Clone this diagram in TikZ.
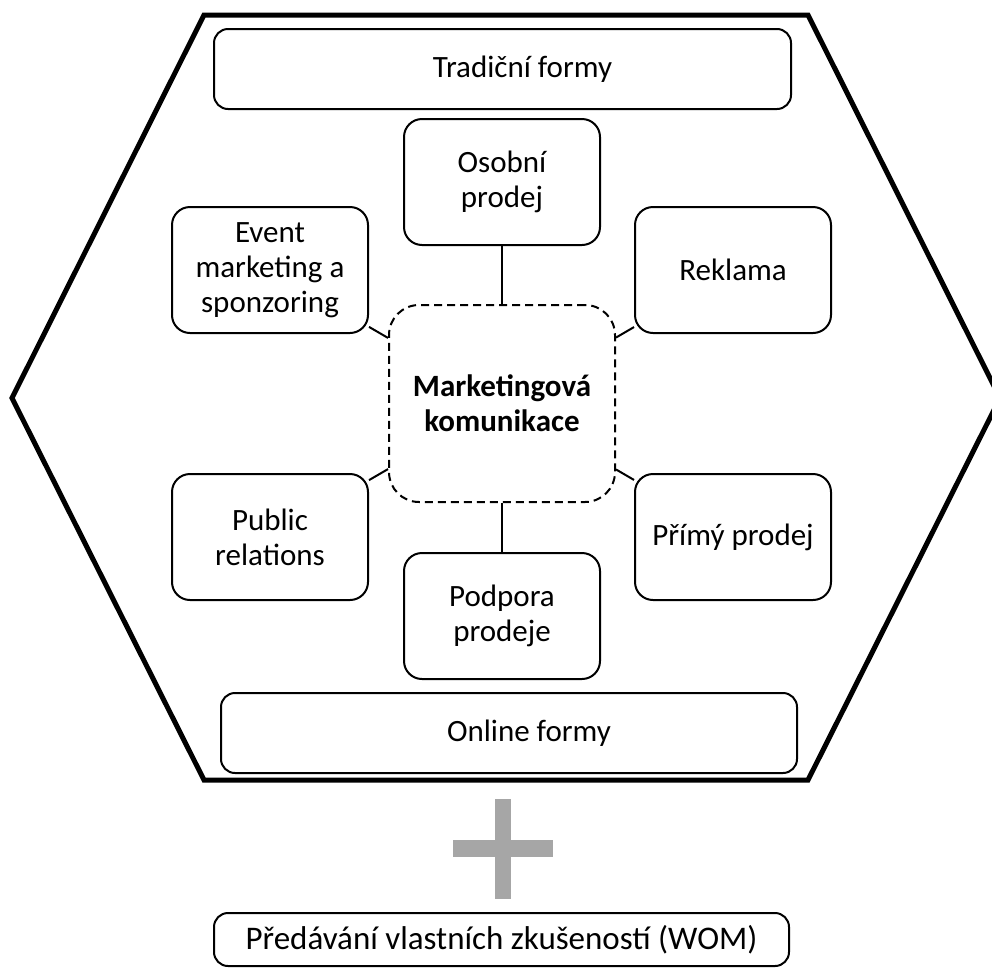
\documentclass[tikz,border=0pt]{standalone}
\usepackage{fontspec}
\setmainfont{Carlito}
\usepackage{tikz}
\usetikzlibrary{positioning}
\definecolor{plusGray}{HTML}{A6A6A6}

\begin{document}
\begin{tikzpicture}[x=1pt,y=-1pt,
  box/.style={draw,line width=2pt,rounded corners=18pt,minimum width=196pt,minimum height=126pt,align=center,inner sep=2pt,font=\fontsize{31}{35}\selectfont},
  bar/.style={draw,line width=2pt,rounded corners=14pt,minimum width=577pt,minimum height=80pt,font=\fontsize{31}{35}\selectfont},
  hub/.style={draw,line width=2pt,dash pattern=on 8pt off 5pt,rounded corners=30pt,minimum width=226pt,minimum height=197pt,align=center,font=\bfseries\fontsize{31}{35}\selectfont},
  link/.style={line width=2pt},
  hexa/.style={line width=5pt,line join=miter}
]
\clip (0,0) rectangle (992,975);
% outer hexagon
\draw[hexa] (204,15) -- (808,15) -- (1000,398) -- (808,780) -- (204,780) -- (12,398) -- cycle;

\node[hub] (mk) at (502,403.5) {Marketingová\\komunikace};
\node[box,above=58pt of mk] (osobni) {Osobní\\prodej};
\node[box,below=49pt of mk] (podpora) {Podpora\\prodeje};
\node[box] (event) at (270,270) {Event\\marketing a\\sponzoring};
\node[box] (reklama) at (733,270) {Reklama};
\node[box] (pr) at (270,537) {Public\\relations};
\node[box] (primy) at (733,537) {Přímý prodej};

\node[bar] (tradicni) at (502.5,69) {\hspace*{40pt}Tradiční formy};
\node[bar,minimum width=576pt] (online) at (509,733) {\hspace*{40pt}Online formy};

\foreach \n in {osobni,podpora,event,reklama,pr,primy}
  \draw[link] (mk) -- (\n);

% plus sign
\fill[plusGray] (495,799) rectangle (511,899);
\fill[plusGray] (453,840) rectangle (553,857);

\node[draw,line width=2pt,rounded corners=14pt,minimum width=575pt,minimum height=53pt,font=\fontsize{33}{38}\selectfont] (wom) at (501.5,939.5) {Předávání vlastních zkušeností (WOM)};
\end{tikzpicture}
\end{document}
